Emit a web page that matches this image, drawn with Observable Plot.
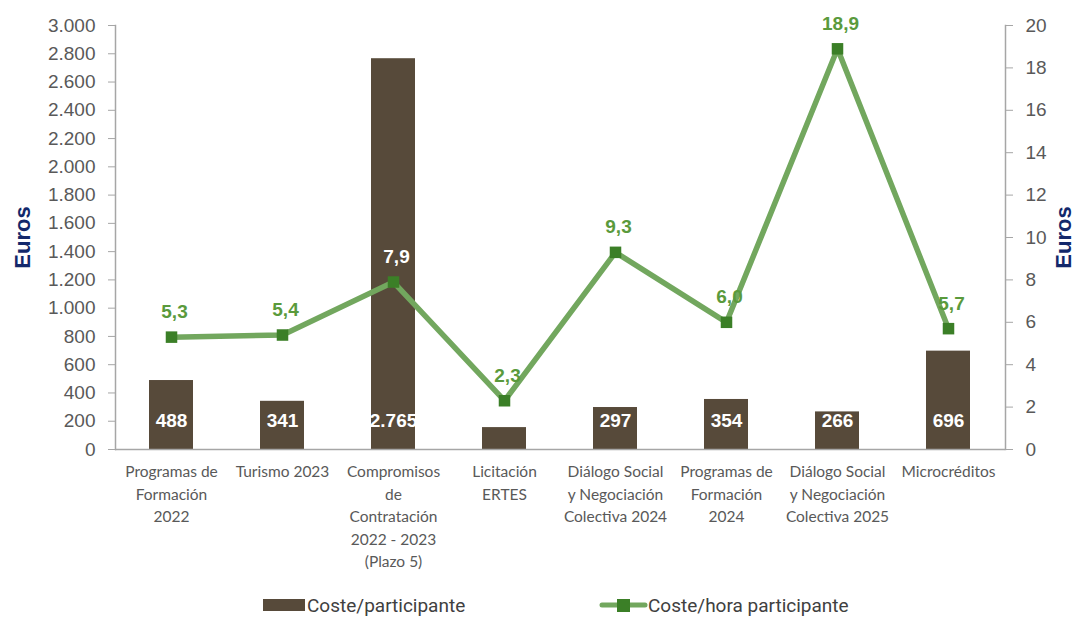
<!DOCTYPE html>
<html><head><meta charset="utf-8">
<script src="https://cdn.jsdelivr.net/npm/d3@7"></script>
<script src="https://cdn.jsdelivr.net/npm/@observablehq/plot@0.6"></script>
<style>
body{margin:0;background:#fff;font-family:"Liberation Sans",Arial,sans-serif;}
#chart{position:relative;width:1078px;height:622px;}
.legend{position:absolute;top:590px;left:0;width:1078px;height:30px;font-family:Roboto,"Liberation Sans",sans-serif;font-size:19px;color:#404040;}
.legend .item{position:absolute;top:0;display:flex;align-items:center;height:30px;}
</style></head>
<body><div id="chart"></div>
<script>
const categories = [
  "Programas de\nFormación\n2022",
  "Turismo 2023",
  "Compromisos\nde\nContratación\n2022 - 2023\n(Plazo 5)",
  "Licitación\nERTES",
  "Diálogo Social\ny Negociación\nColectiva 2024",
  "Programas de\nFormación\n2024",
  "Diálogo Social\ny Negociación\nColectiva 2025",
  "Microcréditos"
];
const costeParticipante = [488, 341, 2765, 155, 297, 354, 266, 696];
const costeHora = [5.3, 5.4, 7.9, 2.3, 9.3, 6.0, 18.9, 5.7];
const leftTicks = [0,200,400,600,800,1000,1200,1400,1600,1800,2000,2200,2400,2600,2800,3000];
const rightTicks = [0,2,4,6,8,10,12,14,16,18,20];
const seriesNames = ["Coste/participante", "Coste/hora participante"];

const ratio = 3000 / 20;
const loc = d3.formatLocale({decimal: ",", thousands: ".", grouping: [3], currency: ["", "€"]});
const fmtInt = loc.format(",d");
const fmt1 = loc.format(",.1f");

const data = categories.map((c, i) => ({cat: c, bar: costeParticipante[i], line: costeHora[i], lineY: costeHora[i] * ratio, onBar: costeHora[i] * ratio < costeParticipante[i]}));

const barColor = "#574a3a";
const lineColor = "#72a75e";
const markColor = "#3b7f27";
const labelGreen = "#5a9a3c";
const axisColor = "#a6a6a6";
const tickText = "#595959";
const titleColor = "#13286b";

const plot = Plot.plot({
  width: 1078, height: 576,
  marginLeft: 115, marginRight: 73, marginTop: 25, marginBottom: 127,
  x: {domain: categories, paddingInner: 0.6, paddingOuter: 0.3, label: null},
  y: {domain: [0, 3000], label: null},
  style: {fontFamily: "Liberation Sans, Arial, sans-serif", background: "#fff", overflow: "visible"},
  marks: [
    Plot.barY(data, {x: "cat", y: "bar", fill: barColor}),
    Plot.text(data, {x: "cat", y: 0, dy: -29, text: d => fmtInt(d.bar), fill: "#fff", fontWeight: "bold", fontSize: 19, lineAnchor: "middle"}),
    Plot.line(data, {x: "cat", y: "lineY", stroke: lineColor, strokeWidth: 5.5, curve: "linear"}),
    Plot.dot(data, {x: "cat", y: "lineY", symbol: "square", r: 6.5, fill: markColor, stroke: "none"}),
    Plot.text(data, {x: "cat", y: "lineY", dy: -25, dx: 3, text: d => fmt1(d.line), fill: d => d.onBar ? "#fff" : labelGreen, fontWeight: "bold", fontSize: 19}),
    Plot.ruleY([0], {stroke: axisColor, strokeWidth: 1.5}),
    Plot.frame({anchor: "left", stroke: axisColor, strokeWidth: 1.5}),
    Plot.frame({anchor: "right", stroke: axisColor, strokeWidth: 1.5}),
    Plot.axisY(leftTicks, {anchor: "left", tickFormat: fmtInt, fontSize: 19, color: tickText, tickSize: 7, stroke: axisColor, tickPadding: 13, label: null}),
    Plot.axisY(rightTicks.map(v => v * ratio), {anchor: "right", tickFormat: d => String(d / ratio), fontSize: 19, color: tickText, tickSize: 7, stroke: axisColor, tickPadding: 13, label: null}),
    Plot.axisX({tickSize: 0, tickPadding: 12, fontSize: 15.5, fill: tickText, lineHeight: 1.45, fontFamily: "Lato, Open Sans, sans-serif", label: null}),
    Plot.text(["Euros"], {frameAnchor: "left", dx: -93, rotate: -90, textAnchor: "middle", fontWeight: "900", fontSize: 22, fill: titleColor, text: d => d}),
    Plot.text(["Euros"], {frameAnchor: "right", dx: 58, rotate: -90, textAnchor: "middle", fontWeight: "900", fontSize: 22, fill: titleColor, text: d => d})
  ]
});
const chart = document.getElementById("chart");
chart.appendChild(plot);

const legend = document.createElement("div");
legend.className = "legend";
legend.innerHTML = `
<div class="item" style="left:263px"><svg width="43" height="14"><rect x="0" y="1" width="42" height="12" fill="${barColor}"/></svg><span style="margin-left:1px">${seriesNames[0]}</span></div>
<div class="item" style="left:599px"><svg width="49" height="16"><line x1="3" y1="8" x2="46" y2="8" stroke="${lineColor}" stroke-width="5" stroke-linecap="round"/><rect x="18" y="2" width="13" height="13" fill="${markColor}"/></svg><span style="margin-left:0px">${seriesNames[1]}</span></div>`;
chart.appendChild(legend);
</script>
</body></html>
